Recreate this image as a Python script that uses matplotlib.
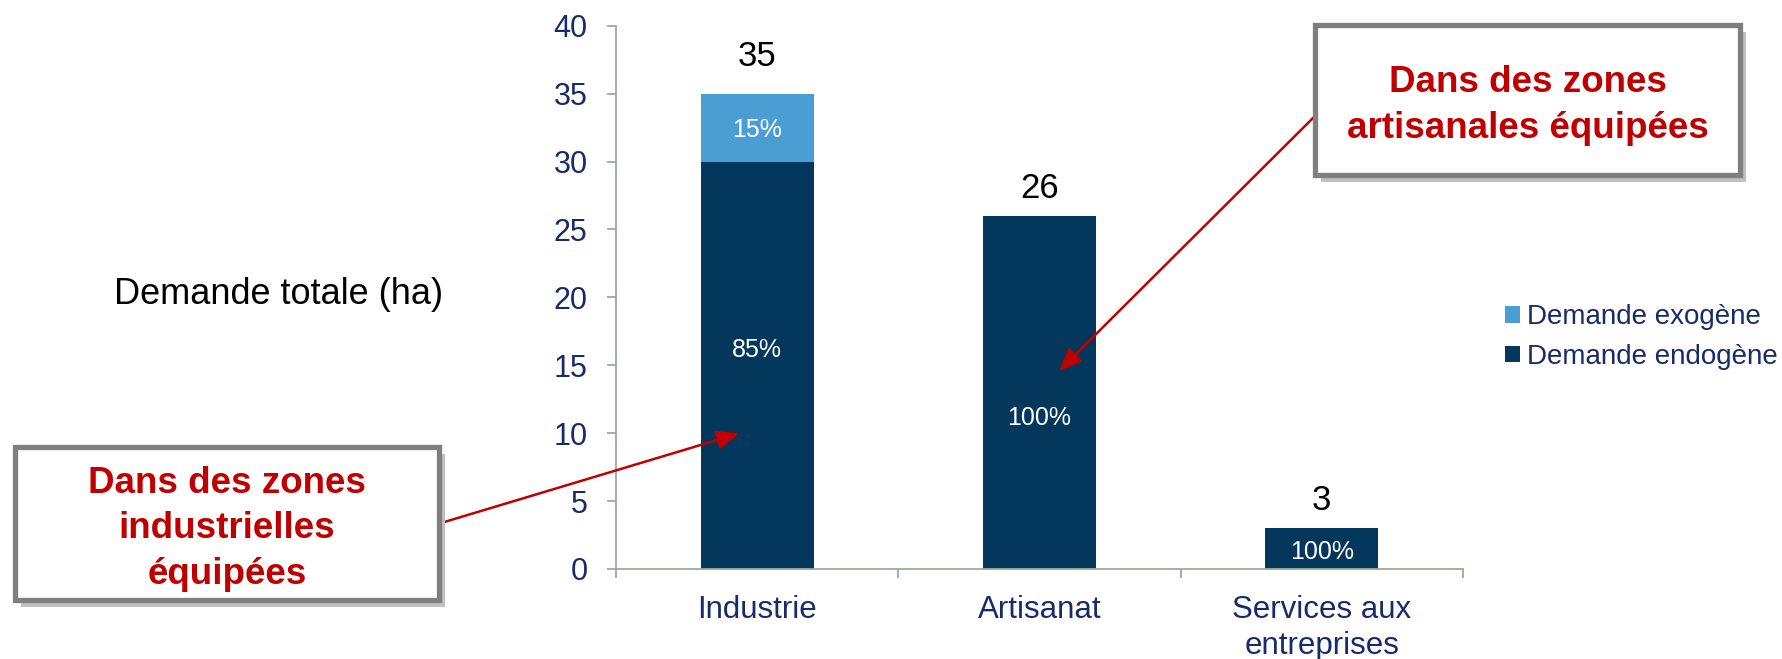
import matplotlib
matplotlib.use("Agg")
import matplotlib.pyplot as plt
from matplotlib.patches import Rectangle, Patch
from matplotlib.patches import ArrowStyle

# ---- data ----
categories = ["Industrie", "Artisanat", "Services aux\nentreprises"]
endogene = [30, 26, 3]
exogene = [5, 0, 0]
pct_endogene = ["85%", "100%", "100%"]
pct_exogene = ["15%", "", ""]
series_names = ["Demande exogène", "Demande endogène"]
yticks = [0, 5, 10, 15, 20, 25, 30, 35, 40]

# ---- layout / style ----
W, H = 1783, 659
plt.rcParams["font.family"] = ["Liberation Sans", "DejaVu Sans"]
DARK = "#03375C"
LIGHT = "#4A9ED3"
NAVY = "#172B6A"
AXC = "#97AE97"
RED = "#C00000"

fig = plt.figure(figsize=(W / 100, H / 100), dpi=100)
ax = fig.add_axes([616 / W, 1 - 569 / H, (1463 - 616) / W, (569 - 25.7) / H])

x = list(range(len(categories)))
bw = 0.40
ax.bar(x, endogene, width=bw, color=DARK, zorder=2)
ax.bar(x, exogene, width=bw, bottom=endogene, color=LIGHT, zorder=2)

ax.set_xlim(-0.5, len(categories) - 0.5)
ax.set_ylim(0, 40)
ax.set_yticks(yticks)
ax.set_xticks(x)
ax.set_xticklabels(categories, fontsize=22.5, color=NAVY, linespacing=1.28)
ax.set_xticks([i - 0.5 for i in range(len(categories) + 1)], minor=True)
ax.tick_params(axis="x", which="major", length=0, pad=18.5)
ax.tick_params(axis="x", which="minor", length=6.7, width=1.3, color=AXC, direction="out")
ax.tick_params(axis="y", which="major", length=6.5, width=1.3, color=AXC, labelsize=22,
               labelcolor=NAVY, pad=14)
for s in ["top", "right"]:
    ax.spines[s].set_visible(False)
for s in ["left", "bottom"]:
    ax.spines[s].set_color(AXC)
    ax.spines[s].set_linewidth(1.3)

# percent labels inside bars
endo_label_frac = [16.1 / 30, 11.15 / 26, 1.25 / 3]
for i in x:
    if pct_endogene[i]:
        ax.text(i, endogene[i] * endo_label_frac[i], pct_endogene[i], ha="center", va="center",
                color="white", fontsize=18, zorder=3)
    if pct_exogene[i]:
        ax.text(i, endogene[i] + exogene[i] / 2 - 0.15, pct_exogene[i], ha="center", va="center",
                color="white", fontsize=18, zorder=3)

# totals above bars
total_offsets = [2.75, 2.05, 2.05]
for i in x:
    tot = endogene[i] + exogene[i]
    ax.text(i, tot + total_offsets[i], f"{tot:g}", ha="center", va="center",
            color="black", fontsize=25)

# legend
handles = [Patch(facecolor=LIGHT, edgecolor="none"), Patch(facecolor=DARK, edgecolor="none")]
leg = fig.legend(handles, series_names, loc="center left",
                 bbox_to_anchor=(1505 / W, 1 - 337 / H), bbox_transform=fig.transFigure,
                 frameon=False, fontsize=20, handlelength=0.55, handleheight=0.55,
                 handletextpad=0.25, labelspacing=0.5, borderpad=0, borderaxespad=0)
for t in leg.get_texts():
    t.set_color(NAVY)

# y label-like text
fig.text(279 / W, 1 - 303.5 / H, "Demande totale (ha)", ha="center", va="baseline",
         fontsize=26, color="black")


# callout boxes
def callout(x0, y0, x1, y1, text, ty):
    fx0, fx1 = x0 / W, x1 / W
    fy0, fy1 = 1 - y1 / H, 1 - y0 / H
    sh = Rectangle((fx0 + 6 / W, fy0 - 7 / H), fx1 - fx0, fy1 - fy0, transform=fig.transFigure,
                   facecolor="#C0C0C0", edgecolor="none", zorder=4)
    bx = Rectangle((fx0, fy0), fx1 - fx0, fy1 - fy0, transform=fig.transFigure,
                   facecolor="white", edgecolor="#7F7F7F", linewidth=3.8, zorder=5)
    fig.add_artist(sh)
    fig.add_artist(bx)
    fig.text((x0 + x1) / 2 / W, 1 - ty / H, text, ha="center", va="center",
             multialignment="center", fontsize=26.5, fontweight="bold", color=RED,
             linespacing=1.4, zorder=6)


callout(1315, 25, 1740, 175, "Dans des zones\nartisanales équipées", 105.5)
callout(15, 447, 439, 600, "Dans des zones\nindustrielles\néquipées", 529)

astyle = ArrowStyle("-|>", head_length=0.7, head_width=0.28)
ax.annotate("", xy=(1.068, 14.56), xycoords="data", xytext=(1316, H - 115),
            textcoords="figure pixels",
            arrowprops=dict(arrowstyle=astyle, mutation_scale=20, color=RED, lw=1.8,
                            shrinkA=0, shrinkB=0), zorder=7)
ax.annotate("", xy=(-0.061, 10.0), xycoords="data", xytext=(440, H - 523.3),
            textcoords="figure pixels",
            arrowprops=dict(arrowstyle=astyle, mutation_scale=20, color=RED, lw=1.8,
                            shrinkA=0, shrinkB=0), zorder=7)

fig.savefig("out.png", dpi=100, facecolor="white")
